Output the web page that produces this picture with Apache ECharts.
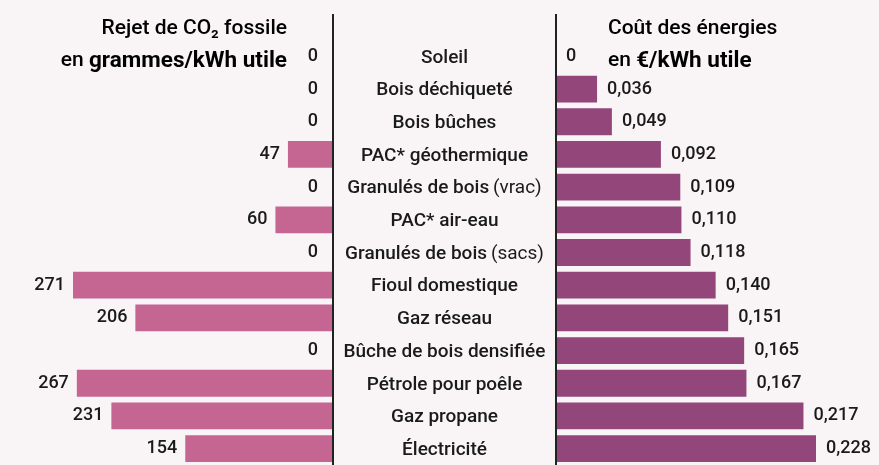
<!DOCTYPE html>
<html><head><meta charset="utf-8">
<script src="https://cdn.jsdelivr.net/npm/echarts@6/dist/echarts.min.js"></script>
<style>html,body{margin:0;padding:0;background:#f9f5f7;}#c{width:879px;height:465px;}</style>
</head><body><div id="c"></div>
<script>
const categories = ['Soleil','Bois déchiqueté','Bois bûches','PAC* géothermique','Granulés de bois (vrac)','PAC* air-eau','Granulés de bois (sacs)','Fioul domestique','Gaz réseau','Bûche de bois densifiée','Pétrole pour poêle','Gaz propane','Électricité'];
const co2Values = [0,0,0,47,0,60,0,271,206,0,267,231,154];
const costValues = [0,0.036,0.049,0.092,0.109,0.110,0.118,0.140,0.151,0.165,0.167,0.217,0.228];

const FONT = 'Roboto';
const TXT = '#1a1a1a';
const chart = echarts.init(document.getElementById('c'));

function catFmt(v){
  const i = v.indexOf('(');
  if (i > 0) return '{a|' + v.slice(0, i - 1) + '\u2009}{b|' + v.slice(i) + '}';
  return '{a|' + v + '}';
}

chart.setOption({
  backgroundColor: '#f9f5f7',
  animation: false,
  grid: [
    {left: 73, width: 260, top: 40, height: 425},
    {left: 556, width: 260, top: 40, height: 425}
  ],
  xAxis: [
    {gridIndex: 0, type: 'value', min: 0, max: 271, inverse: true, show: false},
    {gridIndex: 1, type: 'value', min: 0, max: 0.228, show: false}
  ],
  yAxis: [
    {gridIndex: 0, type: 'category', data: categories, inverse: true, position: 'right',
     axisLine: {show: false}, axisTick: {show: false},
     axisLabel: {margin: 111.5, align: 'center', formatter: catFmt, padding: [3, 0, 0, 0],
       rich: {
         a: {fontFamily: FONT, fontSize: 19, fontWeight: 500, color: TXT},
         b: {fontFamily: FONT, fontSize: 19, fontWeight: 400, color: TXT}
       }}},
    {gridIndex: 1, type: 'category', data: categories, inverse: true,
     axisLine: {show: false}, axisTick: {show: false}, axisLabel: {show: false}}
  ],
  series: [
    {type: 'bar', xAxisIndex: 0, yAxisIndex: 0, barCategoryGap: '18%',
     itemStyle: {color: '#c46592'},
     data: co2Values.map(v => ({value: v, label: {distance: v === 0 ? 15 : 8}})),
     label: {show: true, position: 'left', fontFamily: FONT, fontSize: 18, fontWeight: 500, color: TXT,
       padding: [3, 0, 0, 0], formatter: p => String(p.value)}},
    {type: 'bar', xAxisIndex: 1, yAxisIndex: 1, barCategoryGap: '18%',
     itemStyle: {color: '#93467a'},
     data: costValues,
     label: {show: true, position: 'right', distance: 10, fontFamily: FONT, fontSize: 18, fontWeight: 500, color: TXT,
       padding: [3, 0, 0, 0], formatter: p => p.value === 0 ? '0' : p.value.toFixed(3).replace('.', ',')}}
  ],
  graphic: [
    {type: 'line', shape: {x1: 333, y1: 14, x2: 333, y2: 465}, style: {stroke: '#222', lineWidth: 2}, z: 10},
    {type: 'line', shape: {x1: 556, y1: 14, x2: 556, y2: 465}, style: {stroke: '#222', lineWidth: 2}, z: 10},
    {type: 'text', x: 287, y: 13, style: {
      text: '{r|Rejet de CO₂ fossile}\n{r|en }{b|grammes/kWh utile}',
      align: 'right', verticalAlign: 'top',
      rich: {
        r: {fontFamily: FONT, fontSize: 21, fontWeight: 500, color: TXT, lineHeight: 32, align: 'right'},
        b: {fontFamily: FONT, fontSize: 22.5, fontWeight: 'bold', color: TXT, lineHeight: 32, align: 'right'}
      }}},
    {type: 'text', x: 608, y: 13, style: {
      text: '{r|Coût des énergies}\n{r|en }{b|€/kWh utile}',
      align: 'left', verticalAlign: 'top',
      rich: {
        r: {fontFamily: FONT, fontSize: 21, fontWeight: 500, color: TXT, lineHeight: 32},
        b: {fontFamily: FONT, fontSize: 22.5, fontWeight: 'bold', color: TXT, lineHeight: 32}
      }}}
  ]
});
</script></body></html>
